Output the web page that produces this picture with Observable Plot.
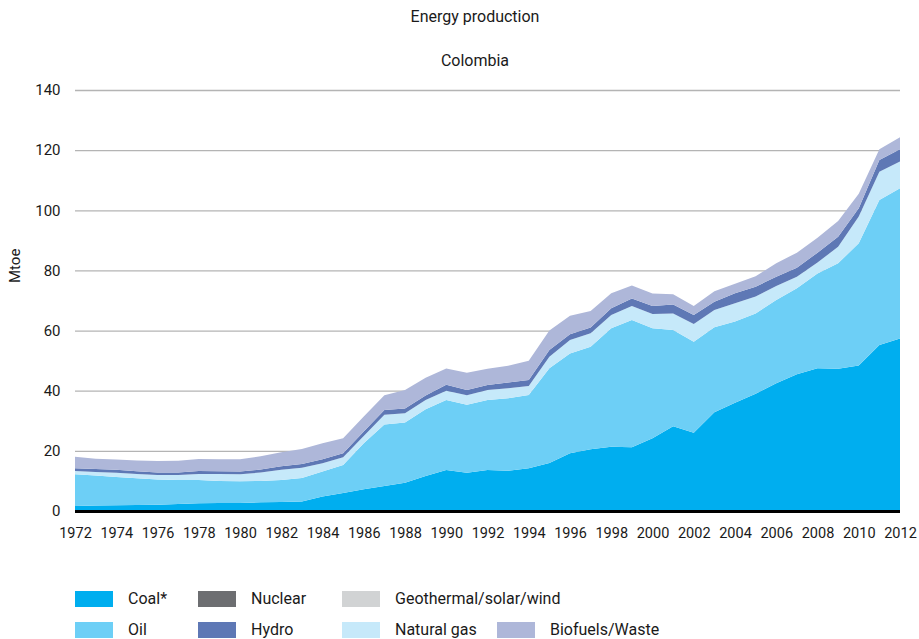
<!DOCTYPE html>
<html>
<head>
<meta charset="utf-8">
<script src="https://cdn.jsdelivr.net/npm/d3@7"></script>
<script src="https://cdn.jsdelivr.net/npm/@observablehq/plot@0.6"></script>
<style>
  body { margin: 0; background: #fff; font-family: Roboto, "Liberation Sans", sans-serif; color: #1a1a1a; }
  #wrap { position: relative; width: 919px; height: 639px; overflow: hidden; }
  .ttl { position: absolute; left: 0; width: 950px; text-align: center; font-size: 16px; line-height: 20px; }
  #chart { position: absolute; left: 0; top: 80px; }
  .lg { position: absolute; font-size: 16px; line-height: 18px; display: flex; align-items: center; }
  .sw { width: 38px; height: 16px; margin-right: 15px; }
</style>
</head>
<body>
<div id="wrap">
  <div class="ttl" style="top:7px">Energy production</div>
  <div class="ttl" style="top:51px">Colombia</div>
  <div id="chart"></div>
  <div id="legend"></div>
</div>
<script>
const years = [1972,1973,1974,1975,1976,1977,1978,1979,1980,1981,1982,1983,1984,1985,1986,1987,1988,1989,1990,1991,1992,1993,1994,1995,1996,1997,1998,1999,2000,2001,2002,2003,2004,2005,2006,2007,2008,2009,2010,2011,2012];

const coal = [1.7,1.8,1.9,2.0,2.1,2.3,2.6,2.7,2.7,2.9,3.0,3.2,4.8,6.0,7.2,8.3,9.4,11.6,13.6,12.7,13.6,13.4,14.2,16.0,19.2,20.5,21.4,21.2,24.2,28.2,26.0,32.8,36.0,39.0,42.5,45.5,47.5,47.3,48.4,55.2,57.4];
const oil = [10.5,10.0,9.4,8.9,8.4,8.0,7.7,7.3,7.2,7.1,7.3,7.8,8.3,9.3,15.3,20.5,20.0,22.2,23.3,22.6,23.3,24.1,24.4,31.5,33.2,34.1,39.4,42.3,36.6,32.0,30.3,28.3,27.0,26.7,27.7,28.6,31.5,35.1,40.6,48.2,49.9];
const naturalGas = [1.1,1.2,1.4,1.4,1.5,1.7,2.0,2.3,2.3,2.8,3.4,3.4,2.8,2.6,2.4,3.2,3.1,3.1,3.1,3.2,3.3,3.3,3.0,3.8,4.5,4.5,4.4,4.7,4.7,5.5,5.9,5.7,6.1,5.6,4.6,3.8,3.6,5.5,8.9,9.4,8.9];
const nuclear = years.map(() => 0);
const hydro = [0.9,1.0,1.0,0.9,0.8,0.8,1.0,0.9,0.9,1.0,1.2,1.2,1.3,1.3,1.5,1.6,1.6,1.5,2.0,1.7,1.7,1.9,2.0,2.2,1.9,1.9,2.2,2.5,2.7,3.0,3.0,2.8,3.3,3.3,3.1,3.0,3.3,3.3,2.8,3.9,4.1];
const geoSolarWind = years.map(() => 0);
const biofuels = [3.8,3.4,3.4,3.6,3.8,3.9,4.0,4.0,4.1,4.4,4.6,5.0,5.3,5.0,5.0,4.9,6.1,5.9,5.4,5.8,5.4,5.6,6.4,6.5,6.1,5.5,5.0,4.3,4.1,3.4,3.0,3.5,3.2,3.5,4.5,5.0,5.0,5.2,4.8,3.6,4.0];

const seriesNames = ["Coal*", "Oil", "Natural gas", "Nuclear", "Hydro", "Geothermal/solar/wind", "Biofuels/Waste"];
const seriesValues = [coal, oil, naturalGas, nuclear, hydro, geoSolarWind, biofuels];
const seriesColors = ["#00aeef", "#6dcff6", "#c6e9fa", "#6d6e71", "#5e78b5", "#d1d3d4", "#aeb7d9"];

const yTicks = [0, 20, 40, 60, 80, 100, 120, 140];
const xTicks = [1972,1974,1976,1978,1980,1982,1984,1986,1988,1990,1992,1994,1996,1998,2000,2002,2004,2006,2008,2010,2012];

const data = [];
seriesNames.forEach((s, i) => years.forEach((y, j) => data.push({year: y, series: s, value: seriesValues[i][j]})));

const chart = Plot.plot({
  width: 919,
  height: 475,
  marginLeft: 75,
  marginRight: 19,
  marginTop: 10,
  marginBottom: 44,
  style: {fontFamily: "Roboto, sans-serif", fontSize: "15px", color: "#1a1a1a", background: "white", overflow: "visible"},
  x: {domain: [1972, 2012], ticks: xTicks, tickFormat: "d", tickSize: 0, tickPadding: 16, label: null},
  y: {domain: [0, 140], ticks: yTicks, tickSize: 0, tickPadding: 15, label: null},
  color: {domain: seriesNames, range: seriesColors},
  marks: [
    Plot.gridY(yTicks.filter(d => d > 0), {stroke: "#b4b4b4", strokeOpacity: 1, strokeWidth: 1.3}),
    Plot.areaY(data, {x: "year", y: "value", fill: "series", order: seriesNames, curve: "linear"}),
    Plot.ruleY([0], {stroke: "#000", strokeWidth: 3}),
    Plot.axisX({ticks: xTicks, tickFormat: "d", tickSize: 0, tickPadding: 16, fontSize: 14.5, label: null}),
    Plot.axisY({ticks: yTicks, tickSize: 0, tickPadding: 15, fontSize: 15, label: null}),
    Plot.text(["Mtoe"], {frameAnchor: "left", dx: -60, dy: -18, rotate: -90, fontSize: 15, text: d => d})
  ]
});
document.getElementById("chart").appendChild(chart);

// Legend
const legendPos = [
  {name: "Coal*", x: 75, y: 590},
  {name: "Nuclear", x: 198, y: 590},
  {name: "Geothermal/solar/wind", x: 342, y: 590},
  {name: "Oil", x: 75, y: 621},
  {name: "Hydro", x: 198, y: 621},
  {name: "Natural gas", x: 342, y: 621},
  {name: "Biofuels/Waste", x: 497, y: 621}
];
const lg = document.getElementById("legend");
legendPos.forEach(p => {
  const i = seriesNames.indexOf(p.name);
  const el = document.createElement("div");
  el.className = "lg";
  el.style.left = p.x + "px";
  el.style.top = p.y + "px";
  el.innerHTML = `<div class="sw" style="background:${seriesColors[i]}"></div><span>${p.name}</span>`;
  lg.appendChild(el);
});
</script>
</body>
</html>
